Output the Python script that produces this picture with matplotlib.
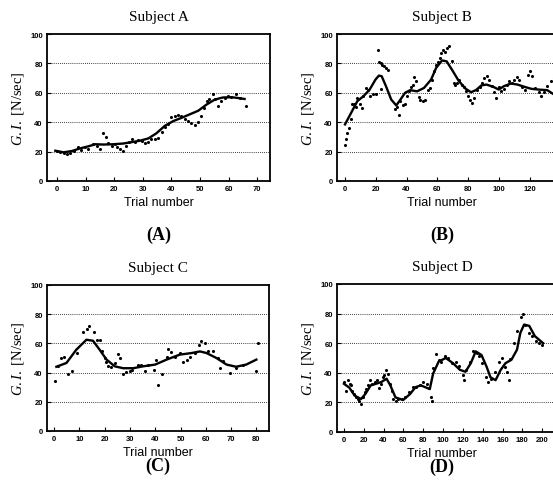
import matplotlib
matplotlib.use("Agg")
import matplotlib.pyplot as plt

plt.rcParams['mathtext.fontset'] = 'custom'
plt.rcParams['mathtext.rm'] = 'Liberation Serif'
plt.rcParams['mathtext.it'] = 'Liberation Serif:italic'

# Subject A
a_trial = [0, 0.9, 2.3, 3.5, 4.6, 6, 7.2, 8.4, 9.9, 11, 12.5, 14, 15, 16, 17.2, 18,
           19.2, 20.3, 21.1, 22, 23, 24.2, 25.3, 26.1, 27.3, 28.5, 29.6, 30.8, 32,
           33, 34.3, 35.4, 36.6, 37.7, 38.9, 40, 41.2, 42.4, 43.5, 44.7, 45.9, 47,
           48.2, 49.4, 50.5, 51.3, 52.3, 53.2, 54.4, 55.2, 56.3, 57.5, 58.7, 59.8,
           61, 62.7, 63.9, 66]
a_gi = [20.6, 20, 19, 18.4, 19, 20.6, 23, 21.3, 23, 21.8, 25.2, 24, 21.8, 32.4,
        30.2, 25.9, 24, 25.2, 23, 21.8, 20.6, 24, 26.3, 28.6, 26.3, 28.1, 27.4,
        25.9, 26.3, 28.6, 28.6, 29, 33, 36.5, 38.8, 43.3, 44.4, 44.9, 44.4, 42,
        41, 39.5, 38, 40.4, 44.4, 50, 54.6, 55.8, 59, 55.8, 51.2, 54.6, 56.5,
        57.5, 57, 59, 56.5, 50.8]
a_fit_x = [-0.6, 2.3, 5.2, 8.1, 11, 13.4, 16.3, 19.7, 23.2, 26, 29, 32, 34.8, 37.7,
           40.7, 43.6, 46.5, 49.4, 52.3, 55.2, 58, 61, 64, 65.6]
a_fit_y = [20.6, 19.5, 20.4, 22.2, 23.6, 25, 24.8, 25, 25.5, 26.4, 27.4, 29, 32.5,
           37.5, 40.8, 43, 45.4, 47.8, 52, 55.4, 56.8, 57, 56.3, 55.8]

# Subject B
b_trial = [0, 0.7, 1.4, 2.3, 3.6, 4.5, 5.9, 7.4, 8.1, 9.7, 10.8, 12, 13.5, 14.9,
           16.4, 18, 19.8, 21.4, 22, 23.2, 24.3, 25.4, 26.6, 27.7, 23.6, 32.2,
           33.8, 34.9, 36, 37.4, 39, 40, 41.7, 42.8, 43.9, 45, 46.4, 48, 49, 50.7,
           51.8, 54, 55.4, 56.5, 58, 59.2, 60.4, 61.5, 62.6, 63.7, 64.9, 66, 67.6,
           69.4, 70.5, 71.6, 72.7, 74.3, 75.7, 77.3, 78.8, 80, 81.3, 82.4, 84,
           85.6, 87.4, 89, 90.3, 91.9, 93.7, 95.3, 96.8, 98.2, 99.8, 101.4, 103,
           104.9, 106.5, 108.3, 109.9, 111.7, 113.3, 114.9, 116.7, 118.5, 120,
           121.6, 123.4, 125.7, 127.5, 129.3, 131.3, 133.6, 135.8]
b_gi = [24.4, 28.7, 32.8, 36, 42, 52.7, 52.7, 50.2, 56.5, 52.7, 49.8, 58, 63.3,
        62.2, 57.7, 59.5, 59.5, 89, 81, 80, 79, 78, 77, 75.8, 62.7, 49.3, 50.5,
        45, 54.3, 51.4, 52.7, 57.7, 61, 64, 65.6, 70.8, 68, 57.2, 55.4, 54.3,
        55.4, 62, 63.3, 68.6, 74.7, 79.2, 80.8, 83.7, 87, 89.4, 87.6, 90.5,
        91.6, 81.4, 66.7, 65, 66.7, 69, 65.6, 64, 61, 57.7, 55.4, 53, 56.5, 62,
        64, 66.7, 70, 71.7, 69, 64.5, 60.4, 56.5, 64, 61, 62.7, 65, 67.8, 66.7,
        69, 70.8, 68.6, 64, 61.8, 72.4, 74.7, 71.7, 63.3, 60.4, 57.7, 60.4, 64.5,
        67.8, 70]
b_fit_x = [0, 4, 8, 12, 16, 19.8, 22, 23.8, 26.6, 30, 33.3, 36, 39, 42.3, 46.8,
           51.3, 55.9, 59.2, 63, 66, 69.4, 73.9, 78.4, 81.8, 85, 88.5, 91.9, 96.4,
           99.8, 103.2, 107.7, 112, 116.7, 121, 125.7, 131.3, 135.8]
b_fit_y = [38.5, 46.4, 54.3, 57.7, 62.2, 69, 71.7, 71.3, 64.5, 55.4, 51.4, 55.4,
           60, 61.8, 61, 63.3, 69, 77, 82, 81.4, 75.8, 68, 62.7, 60.4, 61.8, 65,
           65.6, 64, 62.2, 64.5, 66.3, 65.6, 64, 62.7, 62.2, 61.8, 58.8]

# Subject C
c_trial = [0.3, 1.6, 2.9, 3.8, 5.5, 6.9, 9.2, 11.5, 13, 14, 15.7, 16.8, 18, 19,
           20, 20.5, 21.4, 22.4, 24, 25.3, 26, 27.3, 28.6, 30, 31, 33, 34.5, 36,
           37, 39.4, 40.5, 41.2, 42.5, 44.5, 45, 46.4, 47.7, 49.7, 51, 52.4, 53.7,
           55.7, 57.4, 58.3, 59.6, 61, 63, 65, 65.6, 67, 69.5, 72, 74.8, 79.8,
           80.7]
c_gi = [34, 44.3, 50, 50.7, 39, 41, 53.4, 68, 69.8, 71.6, 67.5, 62.5, 62.5, 54.5,
        50, 47, 44.3, 43.8, 46.6, 52.7, 50, 39, 40.2, 41, 41.6, 45, 45.5, 41, 45,
        42, 48.4, 31.6, 39, 51, 56, 54, 51, 53.4, 47, 48.4, 51, 53.4, 59, 61.4,
        60, 54.5, 55, 50, 43, 47.7, 40, 43, 45, 41, 60]
c_fit_x = [0.9, 4.9, 8.8, 12.8, 15.4, 18, 20.7, 24, 27.3, 31.3, 35.2, 40, 44.5,
           49.7, 54.4, 57.7, 60.3, 64.2, 68.2, 72, 76, 80]
c_fit_y = [44, 46.6, 55.7, 62.5, 61.8, 55.7, 49, 44.3, 43, 43, 44.3, 45.5, 48.9,
           52.3, 53.4, 54.5, 53.4, 50, 45.5, 44, 45.5, 48.9]

# Subject D
d_trial = [0, 2, 3.6, 5.8, 7.2, 8.6, 10, 11.9, 13.7, 15.5, 17.3, 19, 21, 22.7,
           24.5, 26, 28, 31, 33.5, 35, 37, 39, 40.6, 42.4, 44, 46, 48, 50, 52.5,
           55, 58.6, 62, 66, 69.4, 73, 76.6, 80, 84, 86, 87.4, 88.5, 90, 92.8,
           95.6, 98, 101.8, 105, 109, 112.6, 116.5, 120, 121.6, 123.4, 127, 130.6,
           134, 136.7, 139.6, 143, 145, 148.6, 152, 156, 159.7, 163, 165, 166.5,
           168, 172, 175, 179, 181, 183, 186.3, 190, 193.5, 197, 200]
d_gi = [33.7, 28, 35, 32.6, 31.5, 28, 26, 23.4, 22.3, 21, 19, 23.4, 27, 29, 31.5,
        35, 32.6, 33.8, 35, 30, 32.6, 37, 38.4, 41.8, 39.5, 32.6, 28, 22.3, 20.7,
        22.3, 22.3, 23.4, 27, 30.3, 30.3, 31.5, 33.8, 32.6, 30, 23.4, 21, 43, 53,
        48.8, 47.6, 51.3, 50, 46.5, 47.6, 44.3, 38.6, 35, 42, 47.6, 54.5, 53.4,
        51.3, 46.5, 37.5, 33.8, 36, 40.7, 47.6, 50, 44, 40.7, 35, 49, 60, 68,
        77.5, 80, 72, 67, 64.8, 61.4, 60, 59]
d_fit_x = [0, 5.4, 10.8, 17.3, 21.6, 27, 32.4, 37.8, 43, 46.8, 52, 59.7, 66.8,
           72.2, 77.6, 86.6, 90, 95.6, 102.8, 110, 117, 122.6, 128, 133, 138.8,
           144, 147.8, 153, 158, 163, 169, 174.6, 178, 181.8, 187, 192.6, 201]
d_fit_y = [32.6, 30, 24.6, 22.3, 25.7, 31.5, 32.6, 33.8, 36, 31.5, 23.4, 21.6,
           25.7, 30.3, 31.5, 29, 39.5, 47.6, 50, 46.5, 42, 40.7, 46.5, 54.5, 52,
           44, 37, 35, 41.8, 46.5, 48.8, 55.6, 67, 72.6, 71.7, 64.8, 60]

W, H = 553, 489

panels = [
    # name, letter, box px (left, right, top, bottom), xlim, xticks, data
    ("Subject A", "(A)", (47, 270, 35, 182), (-3.5, 74.5), range(0, 71, 10),
     a_trial, a_gi, a_fit_x, a_fit_y),
    ("Subject B", "(B)", (337, 560, 35, 182), (-5.2, 139.6), range(0, 121, 20),
     b_trial, b_gi, b_fit_x, b_fit_y),
    ("Subject C", "(C)", (47, 269, 286, 432), (-2.8, 85), range(0, 81, 10),
     c_trial, c_gi, c_fit_x, c_fit_y),
    ("Subject D", "(D)", (337, 560, 285, 433), (-7, 218), range(0, 201, 20),
     d_trial, d_gi, d_fit_x, d_fit_y),
]

fig = plt.figure(figsize=(W / 100, H / 100), dpi=100)

for title, letter, box, xlim, xticks, tx, gy, fx, fy in panels:
    l, r, t, b = box
    ax = fig.add_axes([l / W, 1 - b / H, (r - l) / W, (b - t) / H])
    ax.scatter(tx, gy, s=5, color='black', linewidths=0, zorder=3)
    ax.plot(fx, fy, color='black', lw=1.7, zorder=4)
    ax.set_xlim(*xlim)
    ax.set_ylim(0, 100)
    ax.set_xticks(list(xticks))
    ax.set_yticks([0, 20, 40, 60, 80, 100])
    for g in [20, 40, 60, 80]:
        ax.axhline(g, color='black', lw=0.6, ls=(0, (1, 1.5)), zorder=1)
    for s in ax.spines.values():
        s.set_linewidth(1.3)
    ax.tick_params(direction='in', length=3, width=0.8, pad=3)
    for lab in ax.get_xticklabels() + ax.get_yticklabels():
        lab.set_fontfamily('Liberation Sans')
        lab.set_fontweight('bold')
        lab.set_fontsize(5.5)

    cx = (l + r) / 2 if r <= W else (l + W) / 2 - 3
    fig.text(cx / W, 1 - (t - 17) / H, title, ha='center', va='center',
             family='Liberation Serif', fontsize=11)
    fig.text(cx / W, 1 - (b + 21) / H, "Trial number", ha='center', va='center',
             family='Liberation Sans', fontsize=9)
    fig.text(cx / W, 1 - (b + 53 if t < 100 else b + 34) / H, letter,
             ha='center', va='center', family='Liberation Serif',
             fontweight='bold', fontsize=13)
    fig.text((l - 29) / W, 1 - ((t + b) / 2) / H, r'$\it{G.I.}$ [N/sec]',
             ha='center', va='center', rotation=90,
             family='Liberation Serif', fontsize=10.5)

fig.savefig("out.png", dpi=100)
